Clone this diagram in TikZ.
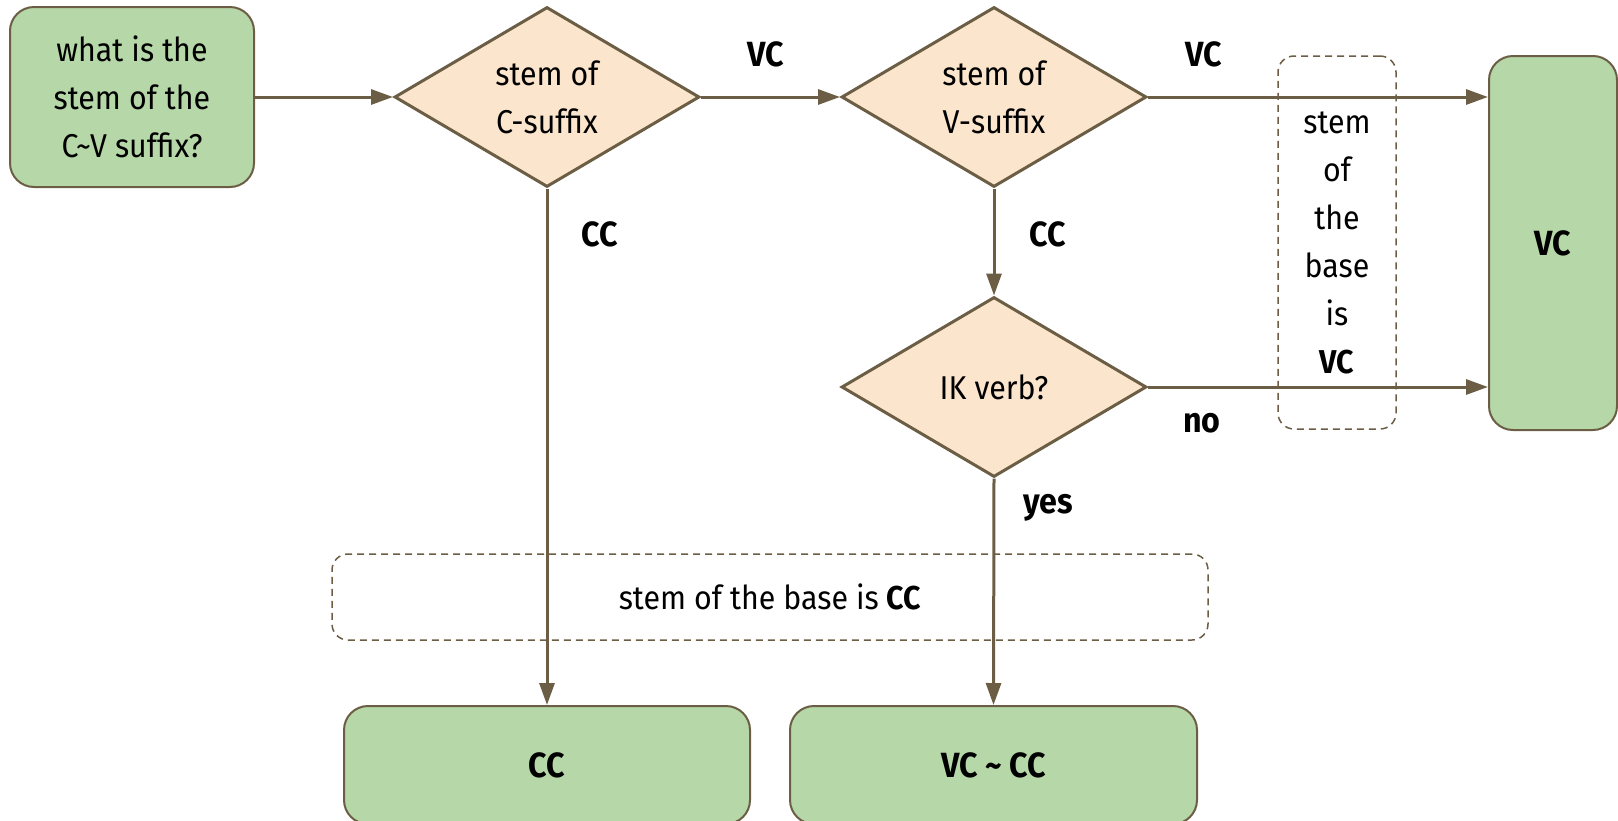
\documentclass[tikz,border=0pt]{standalone}
\usepackage{fontspec}
\setmainfont{Fira Sans}[FakeStretch=0.92]
\usetikzlibrary{shapes.geometric,arrows.meta}
\definecolor{ln}{RGB}{107,94,69}
\definecolor{grn}{RGB}{182,215,168}
\definecolor{pch}{RGB}{252,229,205}
\begin{document}
\begin{tikzpicture}[x=1pt,y=-1pt,
  font=\fontsize{33}{48}\selectfont,
  gbox/.style={draw=ln,fill=grn,line width=2pt,rounded corners=24pt,align=center,inner sep=0pt},
  dbox/.style={diamond,draw=ln,fill=pch,line width=3pt,align=center,inner sep=0pt,minimum width=305pt,minimum height=180pt},
  dashbox/.style={draw=ln,line width=1.5pt,dash pattern=on 7pt off 5pt,rounded corners=16pt,align=center,inner sep=0pt},
  arr/.style={draw=ln,line width=3pt,-{Triangle[length=22pt,width=15pt]}},
  lbl/.style={font=\fontsize{35}{48}\selectfont\bfseries,inner sep=0pt}]
\useasboundingbox (0,0) rectangle (1618,820);
\node[gbox,minimum width=244pt,minimum height=180pt] (start) at (132,97) {what is the\\stem of the\\C\textasciitilde V suffix?};
\node[dbox] (d1) at (547,97) {stem of\\C-suffix};
\node[dbox] (d2) at (994,97) {stem of\\V-suffix};
\node[dbox] (d3) at (994,387) {IK verb?};
\node[gbox,minimum width=128pt,minimum height=374pt,font=\fontsize{35}{48}\selectfont\bfseries] (vc) at (1553,243) {VC};
\node[dashbox,minimum width=118pt,minimum height=373pt] (vnote) at (1337,242.5) {stem\\of\\the\\base\\is\\\textbf{VC}};
\node[dashbox,minimum width=876pt,minimum height=86pt] (hnote) at (770,597) {stem of the base is \textbf{CC}};
\node[gbox,minimum width=406pt,minimum height=118pt,font=\fontsize{35}{48}\selectfont\bfseries] (cc) at (547,765) {CC};
\node[gbox,minimum width=407pt,minimum height=118pt,font=\fontsize{35}{48}\selectfont\bfseries] (vccc) at (993.5,765) {VC \textasciitilde\ CC};
\draw[arr] (start.east) -- (d1.west);
\draw[arr] (d1.east) -- (d2.west);
\draw[arr] (d2.east) -- (d2.east -| vc.west);
\draw[arr] (d3.east) -- (d3.east -| vc.west);
\draw[arr] (d2.south) -- (d3.north);
\draw[arr] (d1.south) -- (cc.north);
\draw[arr] (d3.south) -- (vccc.north);
\node[lbl] (l1) at (766,54) {VC};
\node[lbl] (l2) at (1204,54) {VC};
\node[lbl] (l3) at (600,234) {CC};
\node[lbl] (l4) at (1048,234) {CC};
\node[lbl] (l5) at (1202,423) {no};
\node[lbl] (l6) at (1048,508) {yes};
\end{tikzpicture}
\end{document}
